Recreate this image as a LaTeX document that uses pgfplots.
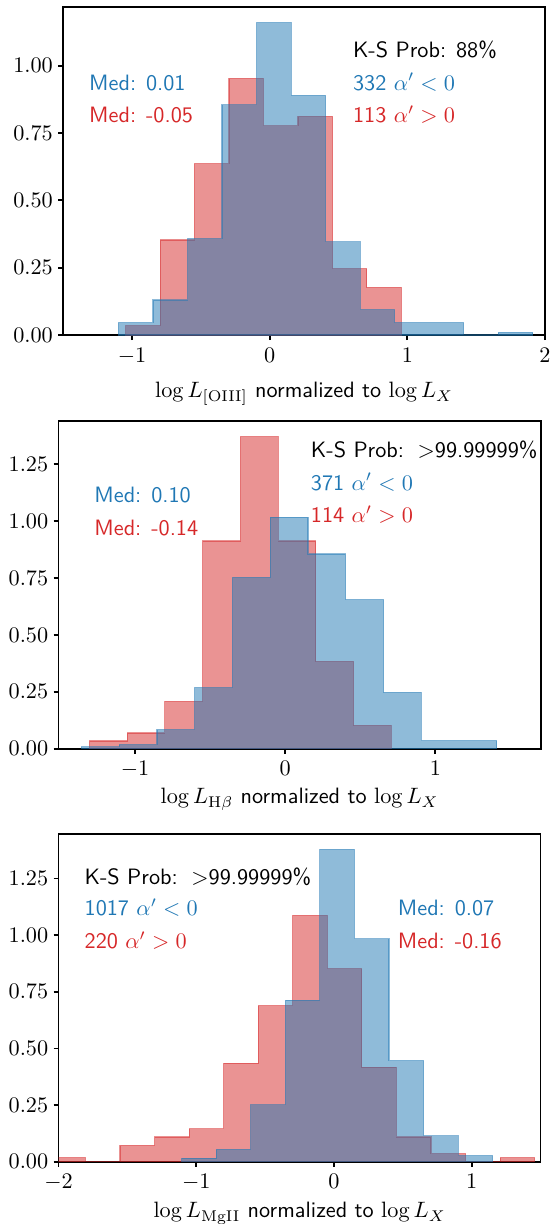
\documentclass[border=0pt]{standalone}
\usepackage{pgfplots}
\usepackage{pgfplotstable}
\pgfplotsset{compat=1.18}
\definecolor{tabblue}{HTML}{1F77B4}
\definecolor{tabred}{HTML}{D62728}

% bin left edges and densities (last row closes the final bin)
\pgfplotstableread{
x y
-1.048 0.035
-0.797 0.353
-0.547 0.636
-0.296 0.953
-0.046 0.777
0.205 0.812
0.456 0.247
0.706 0.177
0.957 0.177
}\oiiired
\pgfplotstableread{
x y
-1.099 0.046
-0.848 0.130
-0.597 0.358
-0.347 0.855
-0.096 1.160
0.155 0.890
0.406 0.346
0.657 0.094
0.907 0.046
1.158 0.046
1.409 0
1.660 0.010
1.911 0.010
}\oiiiblue
\pgfplotstableread{
x y
-1.304 0.034
-1.053 0.069
-0.801 0.208
-0.550 0.912
-0.299 1.370
-0.047 0.912
0.204 0.383
0.455 0.103
0.706 0.103
}\hbred
\pgfplotstableread{
x y
-1.357 0.008
-1.106 0.018
-0.854 0.084
-0.603 0.268
-0.351 0.752
-0.100 1.017
0.152 0.855
0.403 0.655
0.655 0.247
0.906 0.036
1.158 0.036
1.409 0.036
}\hbblue
\pgfplotstableread{
x y
-2.056 0.018
-1.805 0
-1.554 0.072
-1.303 0.109
-1.052 0.145
-0.801 0.435
-0.551 0.689
-0.300 1.087
-0.049 0.852
0.202 0.417
0.453 0.109
0.704 0.036
0.955 0
1.206 0.018
1.457 0.018
}\mgred
\pgfplotstableread{
x y
-1.107 0.016
-0.856 0.055
-0.605 0.251
-0.354 0.713
-0.103 1.378
0.148 0.983
0.399 0.446
0.650 0.114
0.901 0.027
1.152 0.027
}\mgblue

\pgfplotsset{
  hist/.style={scale only axis, width=216.9pt, height=147.47pt, ymin=0,
    anchor=south west,
    axis line style={line width=0.8pt},
    tick align=outside, xtick pos=bottom, ytick pos=left,
    major tick length=2.25pt, major tick style={line width=0.8pt, black},
    minor tick num=0,
    ytick={0,0.25,0.5,0.75,1,1.25},
    yticklabel style={/pgf/number format/fixed, /pgf/number format/fixed zerofill, /pgf/number format/precision=2},
    yticklabel style={inner xsep=2.25pt},
    xlabel style={at={(axis description cs:0.5,0)}, anchor=base},
  },
  redh/.style={const plot mark left, fill=tabred, draw=tabred, fill opacity=0.5, draw opacity=0.5, line width=0.5pt},
  blueh/.style={const plot mark left, fill=tabblue, draw=tabblue, fill opacity=0.5, draw opacity=0.5, line width=0.5pt},
}

\begin{document}
\begin{tikzpicture}[x=0.45pt,y=-0.45pt]
\path[use as bounding box] (0,0) rectangle (550,1224);

\begin{axis}[hist, at={(28.485pt,-150.75pt)}, width=216.77pt,
  xmin=-1.5, xmax=2, ymax=1.217, xtick={-1,0,1,2},
  xlabel={$\log L_{[\mathrm{OIII}]}$ \textsf{normalized to} $\log L_X$},
  xlabel style={yshift=-28.2pt}]
\addplot[redh] table[x=x,y=y] {\oiiired} \closedcycle;
\addplot[blueh] table[x=x,y=y] {\oiiiblue} \closedcycle;
\end{axis}

\begin{axis}[hist, at={(26.37pt,-336.915pt)},
  xmin=-1.509, xmax=1.701, ymax=1.439, xtick={-1,0,1},
  xlabel={$\log L_{\mathrm{H}\beta}$ \textsf{normalized to} $\log L_X$},
  xlabel style={yshift=-24.75pt}]
\addplot[redh] table[x=x,y=y] {\hbred} \closedcycle;
\addplot[blueh] table[x=x,y=y] {\hbblue} \closedcycle;
\end{axis}

\begin{axis}[hist, at={(26.37pt,-522.765pt)},
  xmin=-2, xmax=1.5, ymax=1.446, xtick={-2,-1,0,1},
  xlabel={$\log L_{\mathrm{MgII}}$ \textsf{normalized to} $\log L_X$},
  xlabel style={yshift=-25.2pt}]
\addplot[redh] table[x=x,y=y] {\mgred} \closedcycle;
\addplot[blueh] table[x=x,y=y] {\mgblue} \closedcycle;
\end{axis}

\tikzset{lab/.style={anchor=base west, inner sep=0pt, font=\sffamily}}
% top panel
\node[lab] at (352.6,57.3) {K-S Prob: 88\%};
\node[lab, text=tabblue] at (352.6,90) {332 $\alpha'<0$};
\node[lab, text=tabred] at (352.6,122.7) {113 $\alpha'>0$};
\node[lab, text=tabblue] at (88.8,90) {Med: 0.01};
\node[lab, text=tabred] at (88.8,122.7) {Med: -0.05};
% middle panel
\node[lab] at (310.5,457.3) {K-S Prob: \,$>$99.99999\%};
\node[lab, text=tabblue] at (310.5,490) {371 $\alpha'<0$};
\node[lab, text=tabred] at (310.5,522.7) {114 $\alpha'>0$};
\node[lab, text=tabblue] at (94,502.7) {Med: 0.10};
\node[lab, text=tabred] at (94,535) {Med: -0.14};
% bottom panel
\node[lab] at (84.2,884.5) {K-S Prob: \,$>$99.99999\%};
\node[lab, text=tabblue] at (84.2,915.7) {1017 $\alpha'<0$};
\node[lab, text=tabred] at (84.2,948.3) {220 $\alpha'>0$};
\node[lab, text=tabblue] at (397.5,915.7) {Med: 0.07};
\node[lab, text=tabred] at (397.5,948.3) {Med: -0.16};
\end{tikzpicture}
\end{document}
